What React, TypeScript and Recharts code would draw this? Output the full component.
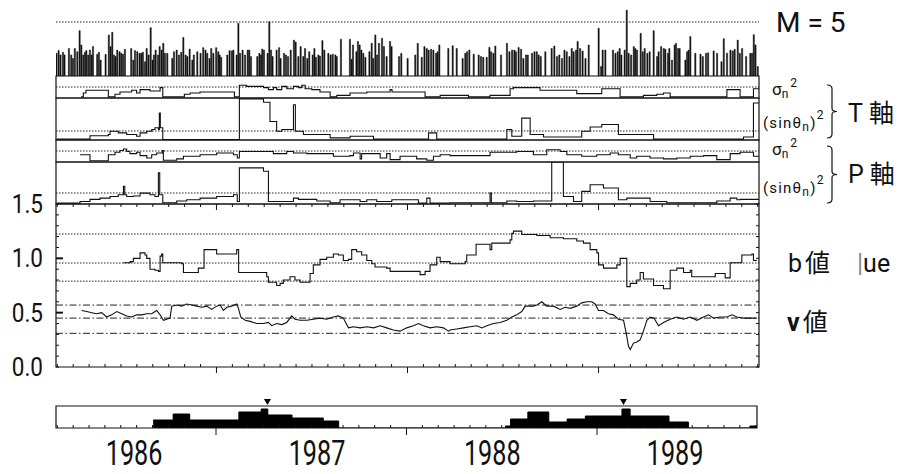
import React from 'react';
import { ComposedChart, Bar, Line, Area, XAxis, YAxis, ReferenceLine, ReferenceArea, ReferenceDot } from 'recharts';

const W = 901;
const LEFT = 56;
const RIGHT = 142;
const T0 = 1986.16;
const T1 = 1989.84;
const INK = '#111';
const FONT = 'Roboto, "DejaVu Sans", sans-serif';
const CJK = '"Noto Sans CJK JP", "Noto Sans CJK SC", sans-serif';

// events: [decimal year, magnitude]
const quakes: [number, number][] = [
  [1986.163, 3.84], [1986.174, 3.94], [1986.184, 3.78], [1986.197, 3.88], [1986.205, 3.78], [1986.228, 4.02],
  [1986.24, 3.78], [1986.249, 3.65], [1986.259, 4.02], [1986.272, 3.9], [1986.284, 4.68], [1986.293, 4.15],
  [1986.303, 3.78], [1986.312, 3.88], [1986.319, 3.94], [1986.329, 3.78], [1986.338, 3.96], [1986.347, 3.78],
  [1986.354, 4.09], [1986.376, 3.8], [1986.385, 3.88], [1986.394, 3.59], [1986.42, 3.8], [1986.437, 4.52],
  [1986.446, 4.09], [1986.455, 4.62], [1986.464, 3.78], [1986.472, 3.72], [1986.481, 3.96], [1986.493, 3.9],
  [1986.502, 3.84], [1986.511, 3.81], [1986.521, 3.99], [1986.554, 4.02], [1986.565, 3.59], [1986.574, 3.94],
  [1986.586, 3.9], [1986.598, 3.84], [1986.607, 3.84], [1986.615, 3.88], [1986.626, 3.53], [1986.635, 4.02],
  [1986.645, 3.78], [1986.656, 4.79], [1986.666, 3.59], [1986.673, 3.78], [1986.682, 3.96], [1986.694, 3.78],
  [1986.703, 4.09], [1986.713, 3.96], [1986.722, 4.21], [1986.731, 3.84], [1986.743, 3.84], [1986.769, 3.65],
  [1986.778, 3.9], [1986.792, 3.96], [1986.804, 3.78], [1986.816, 3.88], [1986.827, 4.43], [1986.839, 3.78],
  [1986.848, 3.72], [1986.86, 4.0], [1986.874, 3.59], [1986.882, 3.78], [1986.9, 3.9], [1986.917, 3.84],
  [1986.931, 4.05], [1986.943, 3.96], [1986.952, 3.84], [1986.964, 3.65], [1986.973, 4.02], [1986.984, 3.84],
  [1986.999, 4.05], [1987.01, 3.9], [1987.017, 3.78], [1987.025, 3.69], [1987.057, 3.78], [1987.069, 3.94],
  [1987.081, 3.93], [1987.089, 3.96], [1987.106, 3.78], [1987.115, 4.95], [1987.124, 3.84], [1987.137, 3.96],
  [1987.15, 3.78], [1987.164, 3.96], [1987.172, 3.96], [1987.181, 3.72], [1987.214, 3.72], [1987.225, 3.84],
  [1987.233, 3.78], [1987.24, 4.0], [1987.249, 3.96], [1987.268, 3.84], [1987.277, 5.01], [1987.286, 3.96],
  [1987.294, 3.72], [1987.315, 3.96], [1987.328, 4.05], [1987.336, 3.65], [1987.354, 3.84], [1987.364, 3.78],
  [1987.375, 3.72], [1987.389, 3.96], [1987.406, 4.33], [1987.415, 4.26], [1987.429, 3.72], [1987.441, 4.09],
  [1987.455, 3.72], [1987.464, 4.02], [1987.476, 3.65], [1987.486, 3.9], [1987.504, 3.78], [1987.513, 4.02],
  [1987.521, 3.69], [1987.534, 3.78], [1987.542, 3.74], [1987.555, 4.31], [1987.565, 3.96], [1987.586, 3.84],
  [1987.598, 3.78], [1987.609, 3.81], [1987.623, 3.78], [1987.63, 3.72], [1987.652, 4.36], [1987.699, 4.36],
  [1987.708, 3.62], [1987.715, 4.15], [1987.733, 3.9], [1987.741, 4.28], [1987.75, 4.15], [1987.759, 3.96],
  [1987.769, 3.84], [1987.78, 3.69], [1987.801, 3.9], [1987.813, 4.21], [1987.821, 3.65], [1987.832, 4.52],
  [1987.841, 3.78], [1987.851, 4.21], [1987.867, 4.4], [1987.877, 4.09], [1987.891, 3.72], [1987.909, 4.28],
  [1987.917, 4.09], [1987.956, 3.72], [1987.968, 3.84], [1988.001, 3.65], [1988.041, 3.78], [1988.054, 4.21],
  [1988.075, 3.69], [1988.089, 4.09], [1988.101, 4.02], [1988.111, 3.96], [1988.124, 3.99], [1988.136, 3.96],
  [1988.15, 3.84], [1988.158, 3.9], [1988.167, 4.15], [1988.214, 4.02], [1988.237, 4.12], [1988.258, 4.02],
  [1988.289, 3.65], [1988.303, 3.84], [1988.312, 3.9], [1988.324, 3.96], [1988.347, 3.81], [1988.373, 3.78],
  [1988.385, 3.72], [1988.397, 3.69], [1988.415, 3.69], [1988.429, 4.06], [1988.438, 3.9], [1988.45, 3.84],
  [1988.46, 4.11], [1988.49, 3.78], [1988.521, 4.21], [1988.534, 3.9], [1988.548, 3.96], [1988.56, 3.96],
  [1988.568, 3.9], [1988.582, 4.06], [1988.595, 3.99], [1988.607, 3.65], [1988.621, 3.78], [1988.63, 3.78],
  [1988.652, 3.84], [1988.665, 3.9], [1988.677, 3.9], [1988.687, 3.78], [1988.698, 3.72], [1988.722, 3.9],
  [1988.755, 4.02], [1988.769, 4.11], [1988.783, 3.72], [1988.795, 3.78], [1988.809, 3.65], [1988.822, 3.96],
  [1988.834, 3.9], [1988.848, 3.72], [1988.86, 4.02], [1988.87, 3.9], [1988.883, 3.96], [1988.891, 4.28],
  [1988.904, 4.02], [1988.917, 3.93], [1988.932, 3.65], [1988.949, 4.15], [1989.001, 4.77], [1989.014, 3.35],
  [1989.022, 3.96], [1989.036, 3.96], [1989.076, 3.96], [1989.089, 3.84], [1989.101, 3.9], [1989.111, 4.02],
  [1989.12, 3.78], [1989.137, 3.96], [1989.148, 5.44], [1989.158, 3.84], [1989.171, 3.78], [1989.185, 4.09],
  [1989.193, 4.02], [1989.202, 3.96], [1989.221, 4.58], [1989.232, 3.9], [1989.242, 4.02], [1989.256, 3.84],
  [1989.268, 3.9], [1989.289, 4.68], [1989.307, 3.72], [1989.315, 3.9], [1989.328, 4.09], [1989.342, 4.02],
  [1989.35, 3.99], [1989.364, 3.84], [1989.371, 4.02], [1989.385, 3.59], [1989.399, 4.15], [1989.406, 4.21],
  [1989.417, 4.02], [1989.425, 4.02], [1989.455, 3.59], [1989.464, 3.9], [1989.472, 3.96], [1989.481, 4.46],
  [1989.507, 3.84], [1989.534, 3.81], [1989.546, 3.72], [1989.563, 3.84], [1989.574, 3.86], [1989.603, 3.93],
  [1989.621, 3.84], [1989.644, 3.53], [1989.656, 4.38], [1989.673, 3.84], [1989.691, 3.96], [1989.703, 3.93],
  [1989.713, 3.99], [1989.729, 4.33], [1989.74, 3.84], [1989.752, 4.02], [1989.773, 3.72], [1989.795, 3.84],
  [1989.804, 3.84], [1989.813, 4.53], [1989.822, 4.15], [1989.834, 3.35],
];

// T axis, sigma_n^2 (relative, dotted line at 0.5)
const tSigma: [number, number][] = [
  [1986.291, 0.05], [1986.303, 0.23], [1986.317, 0.35], [1986.434, 0.05], [1986.469, 0.17], [1986.495, 0.27],
  [1986.556, 0.35], [1986.582, 0.23], [1986.6, 0.38], [1986.652, 0.32], [1986.705, 0.47], [1986.719, 0.05],
  [1986.832, 0.17], [1986.862, 0.23], [1986.914, 0.27], [1987.094, 0.05], [1987.12, 0.58], [1987.158, 0.53],
  [1987.246, 0.47], [1987.272, 0.38], [1987.298, 0.47], [1987.315, 0.38], [1987.342, 0.53], [1987.368, 0.42],
  [1987.403, 0.53], [1987.429, 0.47], [1987.446, 0.58], [1987.464, 0.42], [1987.499, 0.38], [1987.542, 0.27],
  [1987.595, 0.05], [1987.63, 0.12], [1987.699, 0.23], [1987.787, 0.27], [1987.909, 0.38], [1987.919, 0.27],
  [1988.092, 0.05], [1988.171, 0.12], [1988.319, 0.05], [1988.432, 0.12], [1988.537, 0.42], [1988.555, 0.47],
  [1988.694, 0.35], [1988.886, 0.2], [1989.017, 0.42], [1989.113, 0.05], [1989.235, 0.12], [1989.305, 0.17],
  [1989.34, 0.23], [1989.375, 0.05], [1989.672, 0.38], [1989.741, 0.05], [1989.811, 0.42], [1989.84, 0.42],
];

// T axis, (sin theta_n)^2
const tSin: [number, number][] = [
  [1986.164, 0.02], [1986.338, 0.1], [1986.434, 0.13], [1986.443, 0.21], [1986.486, 0.17], [1986.53, 0.13],
  [1986.582, 0.09], [1986.6, 0.17], [1986.635, 0.21], [1986.661, 0.25], [1986.678, 0.29], [1986.696, 0.25],
  [1986.701, 0.64], [1986.706, 0.29], [1986.719, 0.01], [1987.12, 0.98], [1987.246, 0.9], [1987.28, 0.44],
  [1987.315, 0.21], [1987.342, 0.25], [1987.403, 0.84], [1987.413, 0.21], [1987.455, 0.13], [1987.595, 0.05],
  [1987.699, 0.09], [1987.822, 0.02], [1988.11, 0.17], [1988.153, 0.02], [1988.52, 0.25], [1988.546, 0.09],
  [1988.598, 0.52], [1988.642, 0.13], [1988.712, 0.07], [1988.912, 0.21], [1988.956, 0.31], [1989.017, 0.37],
  [1989.104, 0.13], [1989.253, 0.13], [1989.288, 0.02], [1989.759, 0.07], [1989.811, 0.88], [1989.84, 0.88],
];

// P axis, sigma_n^2
const pSigma: [number, number][] = [
  [1986.286, 0.33], [1986.338, 0.06], [1986.434, 0.33], [1986.469, 0.44], [1986.495, 0.52], [1986.513, 0.59],
  [1986.53, 0.48], [1986.547, 0.38], [1986.582, 0.44], [1986.6, 0.29], [1986.635, 0.18], [1986.661, 0.33],
  [1986.687, 0.41], [1986.717, 0.52], [1986.722, 0.08], [1986.792, 0.14], [1986.827, 0.26], [1986.914, 0.33],
  [1987.001, 0.41], [1987.089, 0.33], [1987.109, 0.18], [1987.12, 0.48], [1987.298, 0.38], [1987.368, 0.48],
  [1987.403, 0.41], [1987.473, 0.38], [1987.612, 0.26], [1987.699, 0.29], [1987.717, 0.41], [1987.752, 0.14],
  [1987.76, 0.38], [1987.857, 0.18], [1987.891, 0.38], [1987.909, 0.11], [1987.961, 0.26], [1988.048, 0.14],
  [1988.101, 0.08], [1988.136, 0.26], [1988.171, 0.33], [1988.223, 0.29], [1988.432, 0.44], [1988.572, 0.48],
  [1988.659, 0.33], [1988.729, 0.56], [1988.799, 0.48], [1988.834, 0.33], [1988.912, 0.26], [1988.991, 0.33],
  [1989.061, 0.41], [1989.104, 0.33], [1989.166, 0.18], [1989.2, 0.26], [1989.27, 0.18], [1989.34, 0.14],
  [1989.41, 0.18], [1989.48, 0.26], [1989.55, 0.29], [1989.619, 0.11], [1989.689, 0.38], [1989.741, 0.44],
  [1989.811, 0.26], [1989.84, 0.26],
];

// P axis, (sin theta_n)^2
const pSin: [number, number][] = [
  [1986.164, 0.02], [1986.286, 0.06], [1986.338, 0.11], [1986.39, 0.14], [1986.443, 0.18], [1986.486, 0.22],
  [1986.513, 0.42], [1986.52, 0.22], [1986.53, 0.18], [1986.565, 0.19], [1986.6, 0.26], [1986.652, 0.22],
  [1986.678, 0.18], [1986.696, 0.74], [1986.703, 0.22], [1986.719, 0.03], [1986.792, 0.07], [1986.844, 0.1],
  [1986.914, 0.14], [1987.001, 0.18], [1987.089, 0.22], [1987.109, 0.06], [1987.12, 0.86], [1987.246, 0.78],
  [1987.272, 0.06], [1987.403, 0.14], [1987.429, 0.11], [1987.525, 0.07], [1987.595, 0.03], [1987.647, 0.1],
  [1987.717, 0.1], [1987.752, 0.06], [1987.787, 0.1], [1987.839, 0.06], [1987.918, 0.1], [1988.057, 0.02],
  [1988.101, 0.14], [1988.118, 0.02], [1988.223, 0.03], [1988.432, 0.26], [1988.439, 0.03], [1988.52, 0.07],
  [1988.572, 0.06], [1988.659, 0.07], [1988.755, 1.0], [1988.816, 0.18], [1988.869, 0.06], [1988.912, 0.3],
  [1988.956, 0.46], [1989.026, 0.38], [1989.104, 0.1], [1989.148, 0.14], [1989.27, 0.06], [1989.357, 0.03],
  [1989.619, 0.07], [1989.689, 0.14], [1989.724, 0.1], [1989.741, 0.11], [1989.84, 0.11],
];

// b value
const bValue: [number, number][] = [
  [1986.513, 0.96], [1986.548, 0.97], [1986.565, 1.0], [1986.6, 1.05], [1986.626, 1.03], [1986.635, 1.0],
  [1986.652, 0.9], [1986.678, 0.89], [1986.696, 0.88], [1986.705, 1.02], [1986.713, 1.04], [1986.719, 0.96],
  [1986.818, 0.95], [1986.827, 0.87], [1986.905, 0.91], [1986.935, 1.08], [1987.001, 1.04], [1987.106, 1.08],
  [1987.116, 0.87], [1987.263, 0.83], [1987.272, 0.78], [1987.315, 0.75], [1987.333, 0.77], [1987.35, 0.8],
  [1987.385, 0.83], [1987.411, 0.8], [1987.438, 0.78], [1987.49, 0.86], [1987.507, 0.94], [1987.542, 0.99],
  [1987.577, 1.01], [1987.612, 1.04], [1987.638, 1.03], [1987.664, 0.98], [1987.691, 0.99], [1987.708, 1.08],
  [1987.734, 1.06], [1987.76, 1.03], [1987.787, 0.98], [1987.813, 0.95], [1987.83, 0.92], [1987.891, 0.91],
  [1987.909, 0.88], [1988.066, 0.85], [1988.092, 0.88], [1988.118, 0.94], [1988.153, 1.01], [1988.171, 0.97],
  [1988.223, 0.95], [1988.302, 0.97], [1988.31, 1.03], [1988.359, 1.13], [1988.432, 1.08], [1988.441, 1.14],
  [1988.537, 1.17], [1988.546, 1.23], [1988.555, 1.25], [1988.598, 1.22], [1988.677, 1.21], [1988.747, 1.19],
  [1988.816, 1.18], [1988.886, 1.16], [1988.921, 1.14], [1988.956, 1.08], [1988.991, 1.05], [1989.0, 0.94],
  [1989.026, 0.91], [1989.096, 0.94], [1989.113, 1.0], [1989.148, 0.74], [1989.166, 0.77], [1989.2, 0.8],
  [1989.218, 0.87], [1989.235, 0.81], [1989.288, 0.75], [1989.34, 0.72], [1989.375, 0.89], [1989.41, 0.91],
  [1989.445, 0.87], [1989.48, 0.89], [1989.488, 0.83], [1989.611, 0.86], [1989.663, 0.82], [1989.689, 0.96],
  [1989.75, 1.03], [1989.803, 1.04], [1989.811, 0.98], [1989.829, 0.98],
];

// nu value
const nuValue: [number, number][] = [
  [1986.294, 0.52], [1986.321, 0.51], [1986.347, 0.5], [1986.373, 0.49], [1986.399, 0.5], [1986.425, 0.46],
  [1986.451, 0.48], [1986.478, 0.51], [1986.504, 0.49], [1986.53, 0.47], [1986.556, 0.46], [1986.582, 0.48],
  [1986.609, 0.48], [1986.635, 0.49], [1986.661, 0.49], [1986.687, 0.52], [1986.705, 0.48], [1986.722, 0.43],
  [1986.739, 0.44], [1986.757, 0.45], [1986.766, 0.56], [1986.792, 0.57], [1986.818, 0.56], [1986.844, 0.58],
  [1986.87, 0.57], [1986.897, 0.56], [1986.923, 0.55], [1986.949, 0.56], [1986.975, 0.53], [1987.001, 0.56],
  [1987.019, 0.57], [1987.036, 0.52], [1987.054, 0.55], [1987.08, 0.56], [1987.106, 0.58], [1987.115, 0.54],
  [1987.127, 0.46], [1987.15, 0.43], [1987.176, 0.42], [1987.211, 0.4], [1987.246, 0.4], [1987.272, 0.41],
  [1987.289, 0.38], [1987.315, 0.4], [1987.342, 0.39], [1987.368, 0.41], [1987.394, 0.47], [1987.411, 0.44],
  [1987.438, 0.43], [1987.473, 0.43], [1987.507, 0.44], [1987.542, 0.45], [1987.577, 0.44], [1987.612, 0.46],
  [1987.638, 0.47], [1987.664, 0.45], [1987.691, 0.36], [1987.717, 0.37], [1987.752, 0.36], [1987.787, 0.37],
  [1987.822, 0.36], [1987.857, 0.38], [1987.891, 0.36], [1987.926, 0.34], [1987.961, 0.33], [1987.996, 0.36],
  [1988.031, 0.38], [1988.057, 0.4], [1988.083, 0.38], [1988.118, 0.36], [1988.153, 0.37], [1988.188, 0.36],
  [1988.214, 0.33], [1988.223, 0.34], [1988.258, 0.35], [1988.293, 0.36], [1988.328, 0.37], [1988.363, 0.38],
  [1988.389, 0.36], [1988.415, 0.38], [1988.45, 0.4], [1988.485, 0.41], [1988.52, 0.43], [1988.546, 0.46],
  [1988.572, 0.48], [1988.598, 0.51], [1988.616, 0.56], [1988.659, 0.56], [1988.677, 0.57], [1988.703, 0.6],
  [1988.729, 0.56], [1988.764, 0.56], [1988.799, 0.53], [1988.825, 0.55], [1988.851, 0.54], [1988.886, 0.56],
  [1988.912, 0.59], [1988.939, 0.6], [1988.965, 0.6], [1988.982, 0.58], [1989.0, 0.52], [1989.026, 0.52],
  [1989.052, 0.49], [1989.078, 0.48], [1989.104, 0.44], [1989.131, 0.43], [1989.145, 0.31], [1989.157, 0.19],
  [1989.166, 0.16], [1989.183, 0.22], [1989.2, 0.23], [1989.218, 0.25], [1989.235, 0.33], [1989.253, 0.43],
  [1989.27, 0.46], [1989.291, 0.45], [1989.314, 0.38], [1989.34, 0.41], [1989.375, 0.44], [1989.41, 0.46],
  [1989.445, 0.44], [1989.48, 0.46], [1989.515, 0.43], [1989.55, 0.46], [1989.576, 0.48], [1989.602, 0.45],
  [1989.637, 0.46], [1989.672, 0.46], [1989.699, 0.48], [1989.724, 0.46], [1989.759, 0.45], [1989.794, 0.45],
  [1989.829, 0.45],
];

// activity histogram (bottom strip)
const activity: [number, number][] = [
  [1986.67, 4], [1986.775, 7], [1986.862, 4], [1987.12, 8], [1987.237, 9.5], [1987.272, 6.5], [1987.399, 5],
  [1987.563, 3.5], [1987.644, 0], [1988.52, 1], [1988.546, 4.5], [1988.637, 8], [1988.747, 3], [1988.843, 4.5],
  [1988.939, 6], [1989.131, 9.5], [1989.174, 6], [1989.378, 3], [1989.48, 0], [1989.803, 1], [1989.84, 1],
];
const mainShocks = [1987.27, 1989.139];

const yearTicks = [1987, 1988, 1989];
const yearLabelAt = [1986.57, 1987.53, 1988.45, 1989.41];
const bDotted = [1.224, 0.957, 0.79];
const nuDashDot = [0.57, 0.45, 0.31];

const near = (a: number, b: number) => Math.abs(a - b) < 1e-6;
const isYear = (v: number) => near(v, Math.round(v));
const monthTicks = Array.from({ length: 45 }, (_, i) => 1986 + (i + 2) / 12).filter((v) => !isYear(v));
const edgeTicks = [...monthTicks, ...yearTicks].sort((a, b) => a - b);
const histTicks = [...edgeTicks, ...yearLabelAt].sort((a, b) => a - b);
const bTicks = Array.from({ length: 16 }, (_, i) => i / 10);

const rows = (pts: [number, number][]) => pts.map(([t, v]) => ({ t, v }));

const DOT = '1.5 1.5';
const DASHDOT = '7 2.5 1.5 2.5';

// ticks hanging down from the bottom edge of the P panel (= top edge of the b panel)
const hangTick = (p: any) => (
  <line x1={p.x} y1={p.y} x2={p.x} y2={p.y + (isYear(p.payload.value) ? 6 : 3)} stroke={INK} />
);
const bottomTick = (p: any) => (
  <line x1={p.x} y1={p.y} x2={p.x} y2={isYear(p.payload.value) ? p.y + 6 : p.y - 3} stroke={INK} />
);
const histTick = (p: any) => {
  const v = p.payload.value;
  if (yearLabelAt.includes(v)) {
    return (
      <text transform={`translate(${p.x},${p.y + 37}) scale(0.72,1)`} textAnchor="middle" fontSize={35} fontFamily={FONT} fill={INK}>
        {Math.floor(v)}
      </text>
    );
  }
  return <line x1={p.x} y1={p.y} x2={p.x} y2={isYear(v) ? p.y + 7 : p.y - 3} stroke={INK} />;
};
const leftTick = (p: any) => {
  const v = p.payload.value;
  const major = near(v * 2, Math.round(v * 2));
  const inner = major && v > 0.01 && v < 1.49;
  return (
    <g>
      <line x1={p.x} y1={p.y} x2={p.x + (inner ? 7 : 3)} y2={p.y} stroke={INK} strokeWidth={inner ? 2 : 1} />
      {major && (
        <text transform={`translate(${p.x - 13},${p.y + 9}) scale(0.9,1)`} textAnchor="end" fontSize={25} fontFamily={FONT} fill={INK}>
          {v.toFixed(1)}
        </text>
      )}
    </g>
  );
};
const rightTick = (p: any) => <line x1={p.x} y1={p.y} x2={p.x - 3} y2={p.y} stroke={INK} />;

function StepPanel({ top, height, pts, dotted, ticks }: { top: number; height: number; pts: [number, number][]; dotted: number; ticks?: boolean }) {
  const pad = 3;
  const padBottom = ticks ? 10 : 3;
  return (
    <div style={{ position: 'absolute', left: 0, top: top - pad }}>
      <ComposedChart width={W} height={height + pad + padBottom} data={rows(pts)} margin={{ top: pad, right: RIGHT, bottom: padBottom, left: LEFT }}>
        {ticks ? (
          <XAxis type="number" dataKey="t" domain={[T0, T1]} allowDataOverflow orientation="bottom" mirror ticks={edgeTicks} interval={0} tickSize={0} tickMargin={0} axisLine={false} tickLine={false} tick={hangTick} />
        ) : (
          <XAxis type="number" dataKey="t" domain={[T0, T1]} allowDataOverflow hide />
        )}
        <YAxis type="number" domain={[0, 1]} allowDataOverflow hide />
        <ReferenceArea x1={T0} x2={T1} y1={0} y2={1} fill="none" stroke={INK} strokeWidth={1.2} />
        <ReferenceLine y={dotted} stroke="#222" strokeDasharray={DOT} />
        <Line type="stepAfter" dataKey="v" stroke={INK} strokeWidth={1.1} dot={false} isAnimationActive={false} />
      </ComposedChart>
    </div>
  );
}

function Brace({ y0, y1 }: { y0: number; y1: number }) {
  const m = (y0 + y1) / 2;
  return (
    <path
      d={`M827,${y0} Q832,${y0} 832,${y0 + 4} L832,${m - 3} Q832,${m} 837,${m} Q832,${m} 832,${m + 3} L832,${y1 - 4} Q832,${y1} 827,${y1}`}
      fill="none"
      stroke={INK}
      strokeWidth={1.2}
    />
  );
}

export default function App() {
  const bTop = 204;
  const bH = 163;
  const bPad = 16;
  const hTop = 406;
  const hH = 22;
  const hPadTop = 12;
  return (
    <div style={{ position: 'absolute', left: 0, top: 0, width: W, height: 474, background: '#fff', overflow: 'hidden' }}>
      {/* event spikes */}
      <div style={{ position: 'absolute', left: 0, top: 1 }}>
        <ComposedChart width={W} height={79} data={quakes.map(([t, m]) => ({ t, m }))} margin={{ top: 4, right: RIGHT, bottom: 4, left: LEFT }}>
          <XAxis type="number" dataKey="t" domain={[T0, T1]} allowDataOverflow hide />
          <YAxis type="number" domain={[3, 5.63]} allowDataOverflow hide />
          <ReferenceLine y={5} stroke="#222" strokeDasharray={DOT} />
          <Bar dataKey="m" barSize={1.2} fill="#111" stroke="#111" strokeWidth={0.5} isAnimationActive={false} />
        </ComposedChart>
      </div>

      <StepPanel top={76} height={22} pts={tSigma} dotted={0.5} />
      <StepPanel top={98} height={42} pts={tSin} dotted={0.214} />
      <StepPanel top={140} height={22} pts={pSigma} dotted={0.5} />

      {/* b value and nu value */}
      <div style={{ position: 'absolute', left: 0, top: bTop - bPad }}>
        <ComposedChart width={W} height={bH + 2 * bPad} margin={{ top: bPad, right: RIGHT, bottom: bPad, left: LEFT }}>
          <XAxis type="number" dataKey="t" domain={[T0, T1]} allowDataOverflow orientation="bottom" mirror ticks={edgeTicks} interval={0} tickSize={0} tickMargin={0} axisLine={false} tickLine={false} tick={bottomTick} />
          <YAxis type="number" domain={[0, 1.5]} allowDataOverflow hide />
          <YAxis yAxisId="left" orientation="left" mirror type="number" domain={[0, 1.5]} allowDataOverflow ticks={bTicks} interval={0} tickSize={0} tickMargin={0} axisLine={false} tickLine={false} tick={leftTick} />
          <YAxis yAxisId="right" orientation="right" mirror type="number" domain={[0, 1.5]} allowDataOverflow ticks={bTicks} interval={0} tickSize={0} tickMargin={0} axisLine={false} tickLine={false} tick={rightTick} />
          <ReferenceArea x1={T0} x2={T1} y1={0} y2={1.5} fill="none" stroke={INK} strokeWidth={1.2} />
          {bDotted.map((y) => (
            <ReferenceLine key={`d${y}`} y={y} stroke="#222" strokeDasharray={DOT} />
          ))}
          {nuDashDot.map((y) => (
            <ReferenceLine key={`dd${y}`} y={y} stroke="#222" strokeDasharray={DASHDOT} />
          ))}
          <Line data={rows(bValue)} type="stepAfter" dataKey="v" stroke={INK} strokeWidth={1.1} dot={false} isAnimationActive={false} />
          <Line data={rows(nuValue)} type="linear" dataKey="v" stroke={INK} strokeWidth={1.1} dot={false} isAnimationActive={false} />
        </ComposedChart>
      </div>

      {/* P (sin)^2 panel drawn after the b panel so its hanging ticks sit on top */}
      <StepPanel top={162} height={42} pts={pSin} dotted={0.262} ticks />

      {/* activity strip */}
      <div style={{ position: 'absolute', left: 0, top: hTop - hPadTop }}>
        <ComposedChart width={W} height={hH + hPadTop + 56} data={rows(activity)} margin={{ top: hPadTop, right: RIGHT + 2, bottom: 56, left: LEFT }}>
          <XAxis type="number" dataKey="t" domain={[T0, T1]} allowDataOverflow orientation="bottom" mirror ticks={histTicks} interval={0} tickSize={0} tickMargin={0} axisLine={false} tickLine={false} tick={histTick} />
          <YAxis type="number" domain={[0, 11]} allowDataOverflow hide />
          <Area type="stepAfter" dataKey="v" stroke="#000" fill="#000" fillOpacity={1} isAnimationActive={false} />
          <ReferenceArea x1={T0} x2={T1} y1={0} y2={11} fill="none" stroke={INK} strokeWidth={1.2} />
          {mainShocks.map((t) => (
            <ReferenceDot
              key={t}
              x={t}
              y={13}
              ifOverflow="visible"
              shape={(p: any) => <path d={`M${p.cx - 3.5},${p.cy - 3} L${p.cx + 3.5},${p.cy - 3} L${p.cx},${p.cy + 3} Z`} fill="#000" />}
            />
          ))}
        </ComposedChart>
      </div>

      <svg width={W} height={474} style={{ position: 'absolute', left: 0, top: 0, pointerEvents: 'none' }}>
        <text x={776} y={32} fontSize={28} fontFamily={FONT} fill={INK}>M = 5</text>

        <text x={772} y={95} fontSize={17} fontFamily={FONT} fill={INK}>
          σ<tspan fontSize={12} dy={3}>n</tspan><tspan fontSize={12} dx={2} dy={-11}>2</tspan>
        </text>
        <text x={763} y={128} fontSize={15} letterSpacing={1.2} fontFamily={FONT} fill={INK}>
          (sinθ<tspan fontSize={12} dy={3}>n</tspan><tspan dy={-3}>)</tspan><tspan fontSize={12} dy={-9}>2</tspan>
        </text>
        <Brace y0={85} y1={138} />
        <text x={848} y={122} fontSize={25} fontFamily={FONT} fill={INK}>
          T<tspan dx={6} fontFamily={CJK}>軸</tspan>
        </text>

        <text x={772} y={155} fontSize={17} fontFamily={FONT} fill={INK}>
          σ<tspan fontSize={12} dy={3}>n</tspan><tspan fontSize={12} dx={2} dy={-11}>2</tspan>
        </text>
        <text x={763} y={193} fontSize={15} letterSpacing={1.2} fontFamily={FONT} fill={INK}>
          (sinθ<tspan fontSize={12} dy={3}>n</tspan><tspan dy={-3}>)</tspan><tspan fontSize={12} dy={-9}>2</tspan>
        </text>
        <Brace y0={146} y1={203} />
        <text x={848} y={183} fontSize={25} fontFamily={FONT} fill={INK}>
          P<tspan dx={6} fontFamily={CJK}>軸</tspan>
        </text>

        <text x={788} y={272} fontSize={25} fontFamily={FONT} fill={INK}>
          b<tspan dx={3} fontFamily={CJK}>値</tspan>
        </text>
        <text x={857} y={272} fontSize={25} fontFamily={FONT} fill={INK}>
          <tspan fill="#888">|</tspan>ue
        </text>
        <text x={787} y={331} fontSize={25} fontFamily={FONT} fill={INK}>
          <tspan fontWeight="bold">ν</tspan><tspan dx={3} fontFamily={CJK}>値</tspan>
        </text>
      </svg>
    </div>
  );
}
